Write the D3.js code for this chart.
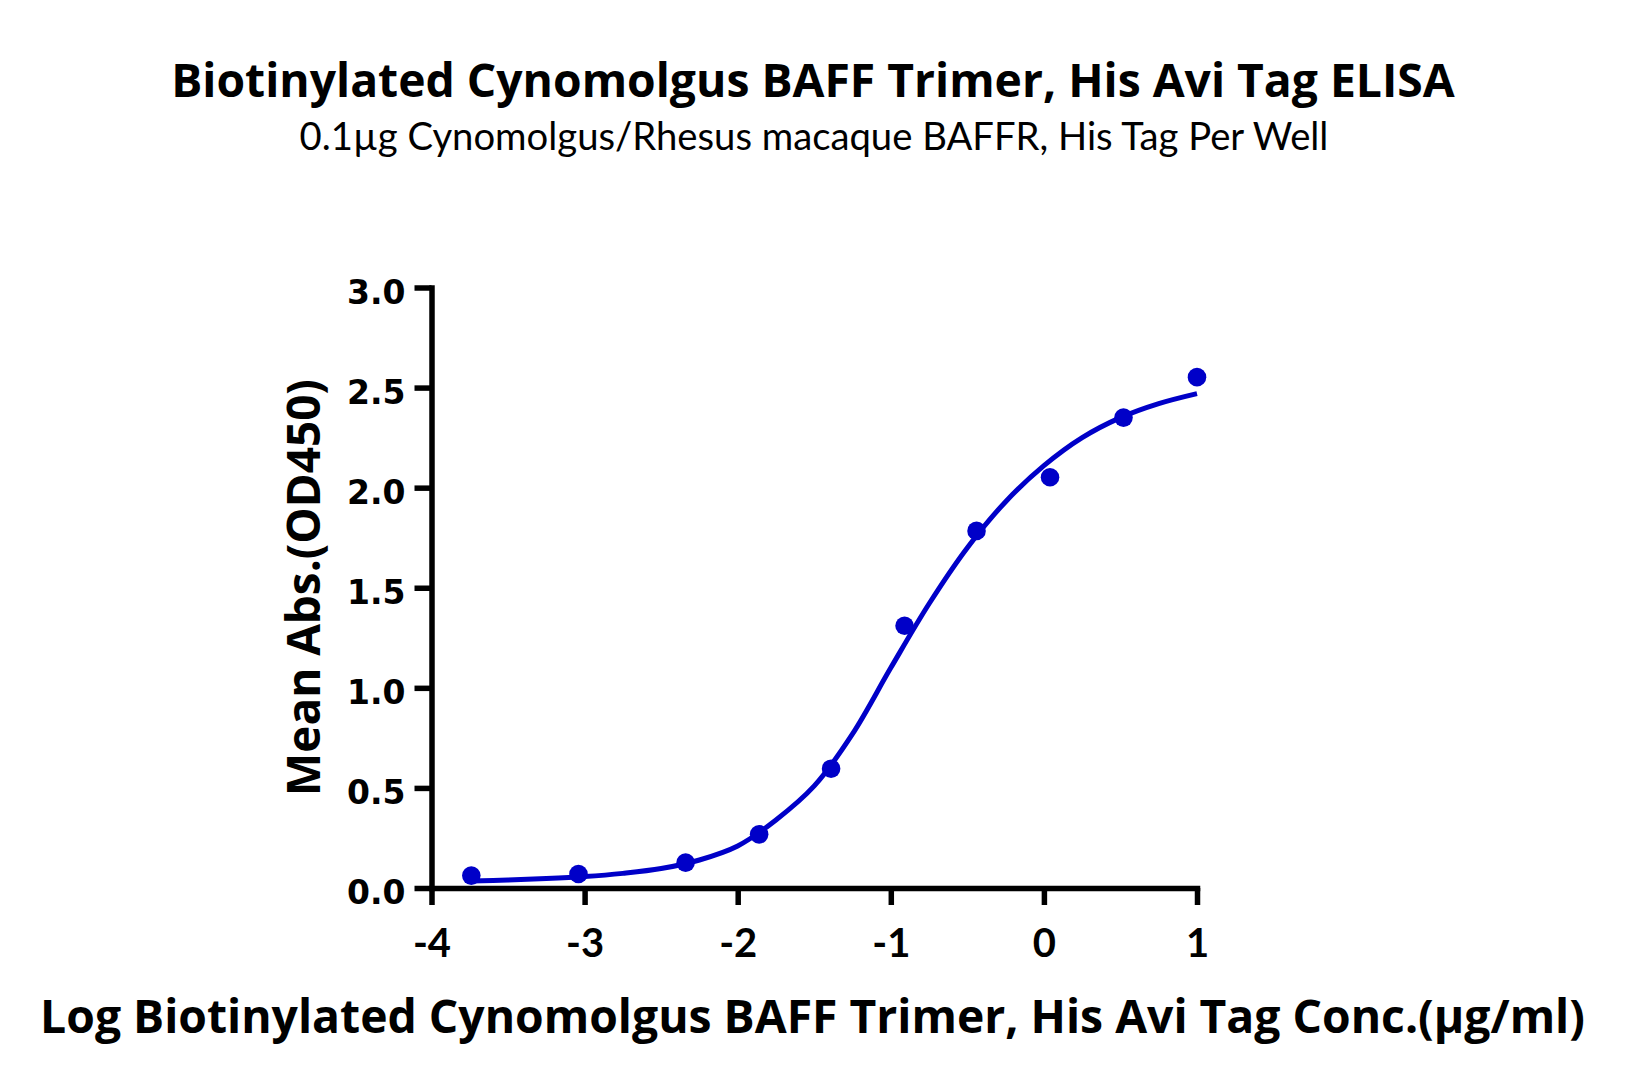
<!DOCTYPE html>
<html>
<head>
<meta charset="utf-8">
<script src="https://cdn.jsdelivr.net/npm/d3@7"></script>
<style>
  html, body { margin: 0; padding: 0; background: #fff; }
  svg { display: block; }
</style>
</head>
<body>
<svg id="chart" width="1627" height="1087"></svg>
<script>
// ELISA binding curve: mean OD450 vs log concentration

const titleText = "Biotinylated Cynomolgus BAFF Trimer, His Avi Tag ELISA";
const subtitleText = "0.1\u00b5g Cynomolgus/Rhesus macaque BAFFR, His Tag Per Well";
const xTitleText = "Log Biotinylated Cynomolgus BAFF Trimer, His Avi Tag Conc.(\u00b5g/ml)";
const yTitleText = "Mean Abs.(OD450)";

// measured points (log ug/ml, OD450)
const logConc = [-3.74, -3.04, -2.34, -1.86, -1.39, -0.91, -0.44, 0.04, 0.52, 1.0];
const meanOD = [0.062, 0.070, 0.127, 0.268, 0.596, 1.310, 1.784, 2.052, 2.350, 2.552];

// fitted curve
const fitLog = [-3.74, -3.5, -3.25, -3.0, -2.75, -2.5, -2.25, -2.0, -1.75, -1.5, -1.25, -1.0, -0.75, -0.5, -0.25, 0.0, 0.25, 0.5, 0.75, 1.0];
const fitOD = [0.035, 0.040, 0.047, 0.057, 0.073, 0.097, 0.140, 0.210, 0.340, 0.510, 0.770, 1.100, 1.420, 1.700, 1.930, 2.110, 2.250, 2.350, 2.420, 2.470];

const xTicks = [-4, -3, -2, -1, 0, 1];
const yTicks = [0, 0.5, 1.0, 1.5, 2.0, 2.5, 3.0];

const blue = "#0000c8";
const boldFont = "'Open Sans', sans-serif";

const svg = d3.select("#chart");

const x = d3.scaleLinear().domain([-4, 1]).range([431.5, 1197]);
const y = d3.scaleLinear().domain([0, 3]).range([888, 287.5]);

// scale a text's font size so it spans the given width
function fitWidth(sel, width) {
  const w = sel.node().getComputedTextLength();
  const fs = +sel.attr("font-size");
  if (w > 0) sel.attr("font-size", (fs * width) / w);
  return sel;
}

// titles
const title = svg.append("text")
  .attr("x", 813).attr("y", 96.5)
  .attr("text-anchor", "middle")
  .attr("font-family", boldFont)
  .attr("font-weight", 700)
  .attr("font-size", 43)
  .text(titleText);
fitWidth(title, 1284);

const subtitle = svg.append("text")
  .attr("x", 814).attr("y", 150)
  .attr("text-anchor", "middle")
  .attr("font-family", "Lato, sans-serif")
  .attr("font-weight", 400)
  .attr("font-size", 38)
  .text(subtitleText);
fitWidth(subtitle, 1029);

// axes
const xAxis = d3.axisBottom(x)
  .tickValues(xTicks)
  .tickSize(17)
  .tickSizeOuter(0)
  .tickFormat((d) => String(d));

const yAxis = d3.axisLeft(y)
  .tickValues(yTicks)
  .tickSize(17)
  .tickSizeOuter(0)
  .tickPadding(9)
  .tickFormat(d3.format(".1f"));

const gx = svg.append("g")
  .attr("transform", `translate(0,${y(0)})`)
  .call(xAxis);

const gy = svg.append("g")
  .attr("transform", `translate(${x(-4)},0)`)
  .call(yAxis);

[gx, gy].forEach((g) => {
  g.select(".domain")
    .attr("stroke", "#000")
    .attr("stroke-width", 5.5)
    .attr("stroke-linecap", "square");
  g.selectAll(".tick line")
    .attr("stroke", "#000")
    .attr("stroke-width", 5.5);
});

gx.selectAll(".tick text")
  .attr("y", 69)
  .attr("dy", 0)
  .attr("fill", "#000")
  .attr("font-family", "Lato, sans-serif")
  .attr("font-weight", 700)
  .attr("font-size", 40);

gy.selectAll(".tick text")
  .attr("dy", "0.48em")
  .attr("fill", "#000")
  .attr("font-family", "'DejaVu Sans', sans-serif")
  .attr("font-weight", 700)
  .attr("font-size", 33);

// axis titles
const xTitle = svg.append("text")
  .attr("x", 812.5).attr("y", 1033)
  .attr("text-anchor", "middle")
  .attr("font-family", boldFont)
  .attr("font-weight", 700)
  .attr("font-size", 46)
  .text(xTitleText);
fitWidth(xTitle, 1545);

const yTitle = svg.append("text")
  .attr("transform", "translate(320,587.5) rotate(-90)")
  .attr("text-anchor", "middle")
  .attr("font-family", boldFont)
  .attr("font-weight", 700)
  .attr("font-size", 44)
  .text(yTitleText);
fitWidth(yTitle, 417);

// fitted curve
const fitData = fitLog.map((v, i) => ({ x: v, y: fitOD[i] }));
const line = d3.line()
  .x((d) => x(d.x))
  .y((d) => y(d.y))
  .curve(d3.curveCatmullRom.alpha(0.5));

svg.append("path")
  .datum(fitData)
  .attr("fill", "none")
  .attr("stroke", blue)
  .attr("stroke-width", 5)
  .attr("d", line);

// data points
svg.append("g")
  .selectAll("circle")
  .data(logConc.map((v, i) => ({ x: v, y: meanOD[i] })))
  .enter()
  .append("circle")
  .attr("cx", (d) => x(d.x))
  .attr("cy", (d) => y(d.y))
  .attr("r", 9.3)
  .attr("fill", blue);
</script>
</body>
</html>
